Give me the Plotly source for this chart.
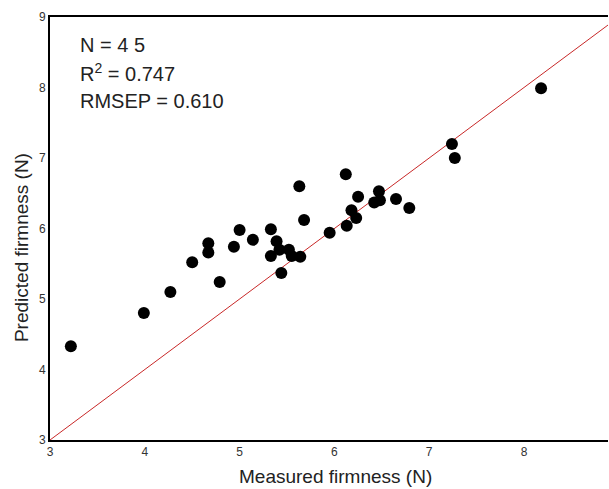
import plotly.graph_objects as go

measured = [3.22, 3.99, 4.27, 4.50, 4.67, 4.67, 4.79, 4.94, 5.00, 5.14,
            5.33, 5.33, 5.39, 5.42, 5.44, 5.52, 5.55, 5.64, 5.63, 5.68,
            5.95, 6.12, 6.13, 6.18, 6.23, 6.25, 6.42, 6.47, 6.48, 6.65,
            6.79, 7.24, 7.27, 8.18]
predicted = [4.33, 4.80, 5.10, 5.52, 5.79, 5.66, 5.24, 5.74, 5.98, 5.84,
             5.99, 5.61, 5.82, 5.70, 5.37, 5.70, 5.61, 5.60, 6.60, 6.12,
             5.94, 6.77, 6.04, 6.26, 6.15, 6.45, 6.37, 6.53, 6.40, 6.42,
             6.29, 7.20, 7.00, 7.99]
ideal_x = [3, 9]
ideal_y = [3, 9]
x_ticks = [3, 4, 5, 6, 7, 8]
y_ticks = [3, 4, 5, 6, 7, 8, 9]
stats_lines = ["N = 4 5", "R<sup>2</sup> = 0.747", "RMSEP = 0.610"]
stats_y = [0.934, 0.868, 0.801]

font = "Liberation Sans, Arial, sans-serif"

fig = go.Figure()
fig.add_trace(go.Scatter(x=ideal_x, y=ideal_y, mode="lines",
                         line=dict(color="rgb(200,40,40)", width=1),
                         hoverinfo="skip", showlegend=False))
fig.add_trace(go.Scatter(x=measured, y=predicted, mode="markers",
                         marker=dict(color="black", size=12),
                         showlegend=False))

for txt, yy in zip(stats_lines, stats_y):
    fig.add_annotation(text=txt, xref="paper", yref="paper",
                       x=0.05, y=yy, xanchor="left", yanchor="middle",
                       showarrow=False,
                       font=dict(family=font, size=20, color="#222"))

fig.add_annotation(text="Measured firmness (N)", xref="paper", yref="paper",
                   x=0.511, y=-0.087, xanchor="center", yanchor="middle",
                   showarrow=False, font=dict(family=font, size=19, color="#222"))
fig.add_annotation(text="Predicted firmness (N)", xref="paper", yref="paper",
                   x=-0.050, y=0.454, xanchor="center", yanchor="middle",
                   textangle=-90, showarrow=False,
                   font=dict(family=font, size=19, color="#222"))

fig.update_layout(
    width=609, height=489,
    margin=dict(l=50, r=1, t=17, b=49),
    paper_bgcolor="white", plot_bgcolor="white",
    xaxis=dict(range=[3, 8.886], tickvals=x_ticks, showgrid=False, zeroline=False,
               showline=True, linecolor="black", linewidth=2, mirror=True,
               ticks="", tickfont=dict(family=font, size=12, color="#333")),
    yaxis=dict(range=[3, 9], tickvals=y_ticks, showgrid=False, zeroline=False,
               showline=True, linecolor="black", linewidth=2,
               ticks="", tickfont=dict(family=font, size=12, color="#333")),
)

fig.write_html("out.html")
